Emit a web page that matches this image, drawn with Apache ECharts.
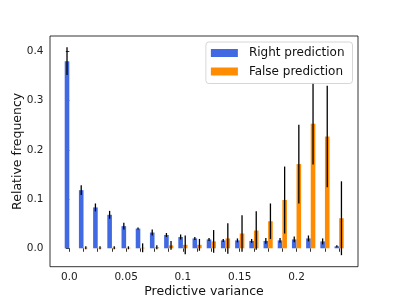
<!DOCTYPE html>
<html>
<head>
<meta charset="utf-8">
<script src="https://cdn.jsdelivr.net/npm/echarts@6/dist/echarts.min.js"></script>
<style>html,body{margin:0;padding:0;background:#fff;}#c{width:399px;height:299px;}</style>
</head>
<body>
<div id="c"></div>
<script>
// Bin positions (predictive variance)
const bins = [0, 0.0125, 0.025, 0.0375, 0.05, 0.0625, 0.075, 0.0875, 0.1, 0.1125,
              0.125, 0.1375, 0.15, 0.1625, 0.175, 0.1875, 0.2, 0.2125, 0.225, 0.2375];
// Right prediction relative frequency and error
const rightVals = [0.380, 0.118, 0.083, 0.068, 0.045, 0.040, 0.032, 0.027, 0.023, 0.020,
                   0.018, 0.016, 0.016, 0.015, 0.015, 0.016, 0.018, 0.020, 0.014, 0.004];
const rightErr  = [0.028, 0.010, 0.008, 0.008, 0.007, 0.002, 0.006, 0.004, 0.005, 0.003,
                   0.003, 0.003, 0.004, 0.004, 0.006, 0.005, 0.006, 0.006, 0.006, 0.002];
// False prediction relative frequency and error
const falseVals = [0.000, 0.001, 0.001, 0.001, 0.001, 0.001, 0.002, 0.006, 0.007, 0.007,
                   0.014, 0.020, 0.030, 0.036, 0.055, 0.098, 0.171, 0.253, 0.227, 0.061];
const falseErr  = [0.000, 0.003, 0.003, 0.003, 0.003, 0.009, 0.004, 0.009, 0.019, 0.012,
                   0.023, 0.031, 0.037, 0.039, 0.036, 0.068, 0.080, 0.083, 0.103, 0.075];
// Tick labels
const xTickValues = [0, 0.05, 0.1, 0.15, 0.2];
const xTickLabels = ['0.0', '0.05', '0.1', '0.15', '0.2'];
const yTickValues = [0, 0.1, 0.2, 0.3, 0.4];
const yTickLabels = ['0.0', '0.1', '0.2', '0.3', '0.4'];

const BAR_W = 4.6;
const FONT = 'DejaVu Sans';

function errData(vals, errs) {
  return bins.map((b, i) => [b, vals[i] - errs[i], vals[i] + errs[i]]);
}
function errSeries(vals, errs, side) {
  return {
    type: 'custom',
    name: side < 0 ? 'errRight' : 'errFalse',
    data: errData(vals, errs),
    encode: { x: 0, y: [1, 2] },
    z: 3,
    silent: true,
    renderItem: function (params, api) {
      const x = api.value(0), lo = api.value(1), hi = api.value(2);
      if (hi - lo <= 0) return null;
      const p1 = api.coord([x, lo]);
      const p2 = api.coord([x, hi]);
      const off = side * BAR_W / 2;
      return {
        type: 'line',
        shape: { x1: p1[0] + off, y1: p1[1], x2: p2[0] + off, y2: p2[1] },
        style: { stroke: '#000', lineWidth: 1.3 }
      };
    }
  };
}

const chart = echarts.init(document.getElementById('c'), null, { renderer: 'canvas' });
chart.setOption({
  animation: false,
  backgroundColor: '#fff',
  textStyle: { fontFamily: FONT },
  grid: {
    left: 50, top: 36, right: 41, bottom: 32.3,
    containLabel: false,
    outerBoundsMode: 'none',
    show: true, borderColor: '#000', borderWidth: 0.8, backgroundColor: 'transparent'
  },
  legend: {
    data: ['Right prediction', 'False prediction'],
    orient: 'vertical',
    right: 46.5, top: 42,
    padding: [4, 8, 5, 5],
    itemWidth: 27, itemHeight: 8, itemGap: 4.5,
    icon: 'rect',
    backgroundColor: 'rgba(255,255,255,0.85)',
    borderColor: '#cccccc', borderWidth: 0.8, borderRadius: 3,
    textStyle: { fontFamily: FONT, fontSize: 12, color: '#111', lineHeight: 14, padding: [0, 0, 0, 6] },
    z: 10
  },
  xAxis: {
    type: 'value',
    min: -0.0170, max: 0.2541,
    name: 'Predictive variance',
    nameLocation: 'middle', nameGap: 19,
    nameMoveOverlap: false,
    nameTextStyle: { fontFamily: FONT, fontSize: 12.5, color: '#111' },
    axisLine: { show: false },
    splitLine: { show: false },
    axisTick: { show: true, customValues: bins, length: 3.5, lineStyle: { color: '#000', width: 0.8 } },
    axisLabel: {
      customValues: xTickValues, margin: 5,
      fontFamily: FONT, fontSize: 10.5, color: '#222',
      formatter: function (v) {
        const i = xTickValues.findIndex(t => Math.abs(t - v) < 1e-9);
        return i >= 0 ? xTickLabels[i] : '';
      }
    }
  },
  yAxis: {
    type: 'value',
    min: -0.0374, max: 0.4311,
    name: 'Relative frequency',
    nameLocation: 'middle', nameGap: 26,
    nameMoveOverlap: false,
    nameRotate: 90,
    nameTextStyle: { fontFamily: FONT, fontSize: 12.5, color: '#111' },
    axisLine: { show: false },
    splitLine: { show: false },
    axisTick: { show: true, customValues: yTickValues, length: 3.5, lineStyle: { color: '#000', width: 0.8 } },
    axisLabel: {
      customValues: yTickValues, margin: 6.5,
      fontFamily: FONT, fontSize: 10.5, color: '#222',
      formatter: function (v) {
        const i = yTickValues.findIndex(t => Math.abs(t - v) < 1e-9);
        return i >= 0 ? yTickLabels[i] : '';
      }
    }
  },
  series: [
    {
      type: 'bar', name: 'Right prediction',
      data: bins.map((b, i) => [b, rightVals[i]]),
      barWidth: BAR_W, barGap: '0%',
      itemStyle: { color: '#4169E1' }
    },
    {
      type: 'bar', name: 'False prediction',
      data: bins.map((b, i) => [b, falseVals[i]]),
      barWidth: BAR_W, barGap: '0%',
      itemStyle: { color: '#FF8C00' }
    },
    errSeries(rightVals, rightErr, -1),
    errSeries(falseVals, falseErr, 1)
  ]
});
</script>
</body>
</html>
